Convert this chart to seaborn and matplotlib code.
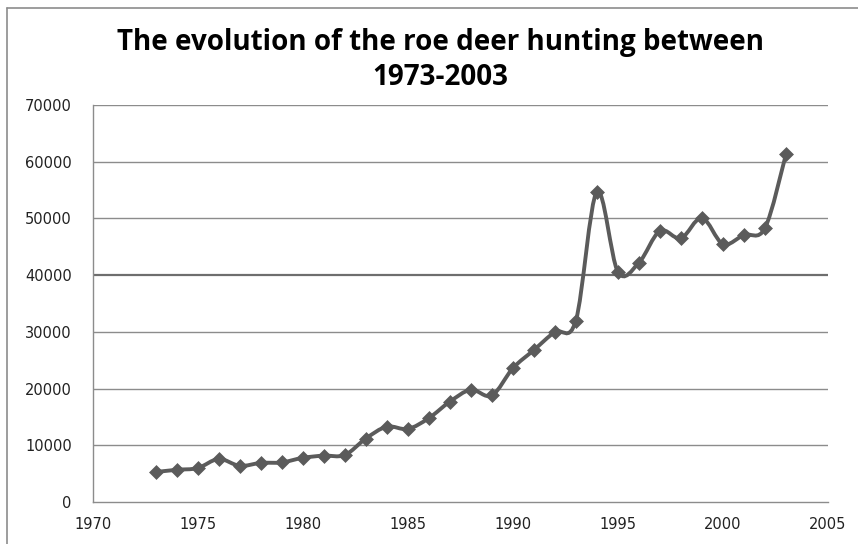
import numpy as np
import pandas as pd
import matplotlib
matplotlib.use('Agg')
import matplotlib.pyplot as plt
from matplotlib.path import Path
from matplotlib.patches import PathPatch
from matplotlib.lines import Line2D
import seaborn as sns

# roe deer hunted per year
years = [1973, 1974, 1975, 1976, 1977, 1978, 1979, 1980, 1981, 1982,
         1983, 1984, 1985, 1986, 1987, 1988, 1989, 1990, 1991, 1992,
         1993, 1994, 1995, 1996, 1997, 1998, 1999, 2000, 2001, 2002, 2003]
hunted = [5300, 5700, 6000, 7600, 6400, 6900, 7000, 7800, 8200, 8300,
          11200, 13300, 12900, 14800, 17700, 19800, 18800, 23600, 26800, 30000,
          32000, 54700, 40600, 42200, 47800, 46500, 50100, 45500, 47100, 48300, 61300]
x_ticks = [1970, 1975, 1980, 1985, 1990, 1995, 2000, 2005]
y_ticks = [0, 10000, 20000, 30000, 40000, 50000, 60000, 70000]
title = 'The evolution of the roe deer hunting between\n1973-2003'

df = pd.DataFrame({'year': years, 'hunted': hunted})

sns.set_theme(style='white')
plt.rcParams['font.family'] = ['DejaVu Sans']

fig = plt.figure(figsize=(8.58, 5.44), dpi=100)
ax = fig.add_axes([0.108, 0.077, 0.857, 0.730])

line_col = '#5b5b5b'
grid_col = '#8c8c8c'

# Excel style smoothed line: cubic bezier segments through the points
pts = df[['year', 'hunted']].to_numpy(dtype=float)
verts = [tuple(pts[0])]
codes = [Path.MOVETO]
n = len(pts)
for i in range(n - 1):
    p0 = pts[i - 1] if i > 0 else pts[i]
    p1 = pts[i]
    p2 = pts[i + 1]
    p3 = pts[i + 2] if i + 2 < n else pts[i + 1]
    c1 = p1 + (p2 - p0) / 6.0
    c2 = p2 - (p3 - p1) / 6.0
    verts += [tuple(c1), tuple(c2), tuple(p2)]
    codes += [Path.CURVE4] * 3
ax.add_patch(PathPatch(Path(verts, codes), facecolor='none', edgecolor=line_col,
                       lw=2.8, zorder=3))

sns.scatterplot(data=df, x='year', y='hunted', marker='D', s=50, color=line_col,
                edgecolor=line_col, linewidth=0.5, ax=ax, zorder=4, legend=False)

ax.set_xlim(1970, 2005)
ax.set_ylim(0, 70000)
ax.set_xticks(x_ticks)
ax.set_yticks(y_ticks)
ax.set_xticklabels([str(v) for v in x_ticks])
ax.set_yticklabels([str(v) for v in y_ticks])
ax.set_xlabel('')
ax.set_ylabel('')

for v in y_ticks[1:]:
    lw = 1.6 if v == 40000 else 1.0
    c = '#6e6e6e' if v == 40000 else grid_col
    ax.axhline(v, color=c, lw=lw, zorder=1)

for side in ['top', 'right']:
    ax.spines[side].set_visible(False)
for side in ['left', 'bottom']:
    ax.spines[side].set_color(grid_col)
    ax.spines[side].set_linewidth(1.0)

ax.tick_params(axis='both', which='major', direction='out', length=5, width=1,
               color=grid_col, labelsize=10.5, labelcolor='#222222', pad=10)
ax.tick_params(axis='x', pad=6)

fig.text(0.513, 0.948, title, ha='center', va='top', fontsize=20, fontweight='bold',
         family=['Open Sans', 'DejaVu Sans'], linespacing=1.27, color='black')

# chart area border (top and left edges are visible)
fig.add_artist(Line2D([7 / 858, 7 / 858], [0, 1 - 8 / 544], transform=fig.transFigure,
                      color='#8c8c8c', lw=1.2))
fig.add_artist(Line2D([7 / 858, 1], [1 - 8 / 544, 1 - 8 / 544], transform=fig.transFigure,
                      color='#8c8c8c', lw=1.2))

fig.savefig('out.png', dpi=100)
